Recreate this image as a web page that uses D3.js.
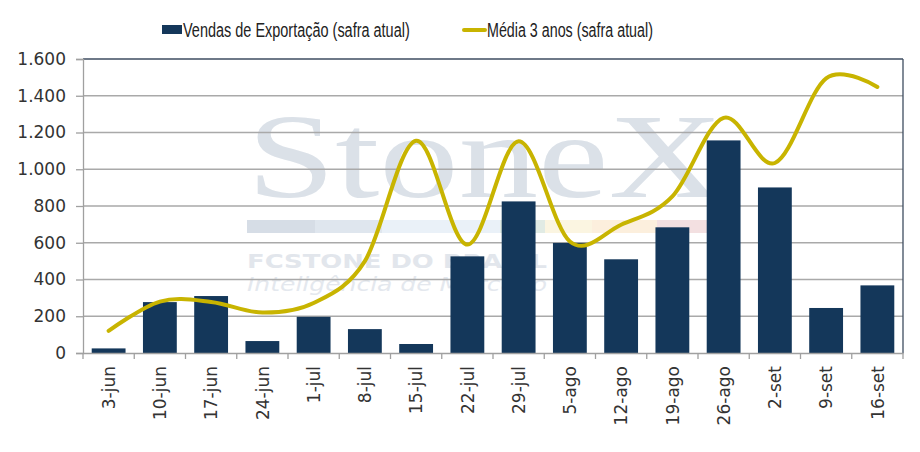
<!DOCTYPE html>
<html>
<head>
<meta charset="utf-8">
<script src="https://cdn.jsdelivr.net/npm/d3@7/dist/d3.min.js"></script>
<style>
  html, body { margin: 0; padding: 0; background: #fff; }
  svg { display: block; }
</style>
</head>
<body>
<svg id="chart" width="920" height="452"></svg>
<script>
const categories = ["3-jun","10-jun","17-jun","24-jun","1-jul","8-jul","15-jul","22-jul","29-jul","5-ago","12-ago","19-ago","26-ago","2-set","9-set","16-set"];
const vendas = [25, 277, 310, 65, 197, 130, 49, 526, 825, 599, 510, 684, 1157, 901, 245, 368];
const media3 = [120, 280, 278, 220, 272, 500, 1155, 590, 1152, 607, 698, 852, 1280, 1034, 1495, 1448];
const yTicks = [0, 200, 400, 600, 800, 1000, 1200, 1400, 1600];
const seriesNames = ["Vendas de Exportação (safra atual)", "Média 3 anos (safra atual)"];

const W = 920, H = 452;
const margin = { top: 59, right: 17, bottom: 99, left: 83 };
const barColor = "#14375a";
const lineColor = "#c8b400";

const svg = d3.select("#chart");
const fmt = v => d3.format(",")(v).replace(/,/g, ".");

const x = d3.scaleBand().domain(categories)
  .range([margin.left, W - margin.right])
  .paddingInner(0.34).paddingOuter(0.17);
const y = d3.scaleLinear().domain([0, 1600]).range([H - margin.bottom, margin.top]);

// Watermark
const wm = svg.append("g").attr("class", "watermark");
wm.append("text").attr("x", 247).attr("y", 197)
  .attr("font-family", "Liberation Serif, DejaVu Serif, serif")
  .attr("font-size", 120).attr("fill", "#dbe1e8")
  .attr("textLength", 476).attr("lengthAdjust", "spacingAndGlyphs")
  .text("StoneX");
const wmBands = [
  [247, 315, "#d6dde6"], [315, 382, "#dfe6ee"], [382, 500, "#eaf1f8"],
  [500, 545, "#e1ebe4"], [545, 592, "#fbf5e1"], [592, 657, "#fcefdd"], [657, 707, "#f3e0e1"]
];
wm.selectAll("rect").data(wmBands).join("rect")
  .attr("x", d => d[0]).attr("width", d => d[1] - d[0])
  .attr("y", 220).attr("height", 13).attr("fill", d => d[2]);
wm.append("text").attr("x", 247).attr("y", 268)
  .attr("font-family", "DejaVu Sans, sans-serif").attr("font-weight", "bold")
  .attr("font-size", 19).attr("fill", "#e2e6ec")
  .attr("textLength", 300).attr("lengthAdjust", "spacingAndGlyphs")
  .text("FCSTONE DO BRASIL");
wm.append("text").attr("x", 247).attr("y", 291)
  .attr("font-family", "DejaVu Sans, sans-serif").attr("font-style", "italic")
  .attr("font-size", 20).attr("fill", "#e4e8ee")
  .attr("textLength", 300).attr("lengthAdjust", "spacingAndGlyphs")
  .text("Inteligência de Mercado");

// Gridlines
svg.append("g").selectAll("line").data(yTicks.filter(t => t > 0 && t < 1600)).join("line")
  .attr("x1", margin.left).attr("x2", W - margin.right)
  .attr("y1", d => y(d)).attr("y2", d => y(d))
  .attr("stroke", "#a9a9a9").attr("stroke-width", 1.3);

// Bars
svg.append("g").selectAll("rect").data(vendas).join("rect")
  .attr("x", (d, i) => x(categories[i]))
  .attr("width", x.bandwidth())
  .attr("y", d => y(d))
  .attr("height", d => y(0) - y(d))
  .attr("fill", barColor);

// Frame top and right
svg.append("line").attr("x1", margin.left).attr("x2", W - margin.right)
  .attr("y1", margin.top).attr("y2", margin.top)
  .attr("stroke", "#3e4d60").attr("stroke-width", 1.3);
svg.append("line").attr("x1", W - margin.right).attr("x2", W - margin.right)
  .attr("y1", margin.top).attr("y2", y(0))
  .attr("stroke", "#3e4d60").attr("stroke-width", 1.3);

// Y axis
const yAxis = d3.axisLeft(y).tickValues(yTicks).tickSize(7).tickPadding(10).tickFormat(fmt);
const gy = svg.append("g").attr("transform", `translate(${margin.left},0)`).call(yAxis);
gy.select(".domain").attr("stroke", "#a0a0a0").attr("stroke-width", 1.3);
gy.selectAll(".tick line").attr("stroke", "#a0a0a0").attr("stroke-width", 1.3);
gy.selectAll(".tick text").attr("font-family", "DejaVu Sans, Verdana, sans-serif")
  .attr("font-size", 17).attr("fill", "#333");

// X axis
const gx = svg.append("g").attr("transform", `translate(0,${y(0)})`)
  .call(d3.axisBottom(x).tickSize(0).tickFormat(""));
gx.select(".domain").attr("stroke", "#a0a0a0").attr("stroke-width", 1.3);
gx.selectAll(".tick").remove();
const bounds = categories.map(c => x(c) - (x.step() - x.bandwidth()) / 2).concat([W - margin.right]);
gx.selectAll("line.sep").data(bounds).join("line").attr("class", "sep")
  .attr("x1", d => d).attr("x2", d => d).attr("y1", 0).attr("y2", 6)
  .attr("stroke", "#a0a0a0").attr("stroke-width", 1.3);
svg.append("g").selectAll("text").data(categories).join("text")
  .attr("transform", d => `translate(${x(d) + x.bandwidth() / 2},366) rotate(-90)`)
  .attr("text-anchor", "end").attr("dy", "0.36em")
  .attr("font-family", "DejaVu Sans, Verdana, sans-serif")
  .attr("font-size", 17).attr("fill", "#333")
  .text(d => d);

// Line
const line = d3.line()
  .x((d, i) => x(categories[i]) + x.bandwidth() / 2)
  .y(d => y(d))
  .curve(d3.curveCardinal.tension(0));
svg.append("path").datum(media3)
  .attr("d", line).attr("fill", "none")
  .attr("stroke", lineColor).attr("stroke-width", 4)
  .attr("stroke-linecap", "round").attr("stroke-linejoin", "round");

// Legend (condensed by horizontal scaling to match the narrow legend font)
const lg = svg.append("g");
const legendFont = "Liberation Sans Narrow, Arial Narrow, Liberation Sans, sans-serif";
function legendText(x0, y0, width, label) {
  const t = lg.append("text").attr("x", 0).attr("y", 0).attr("dy", "0.35em")
    .attr("font-family", legendFont).attr("font-size", 21).attr("fill", "#222")
    .text(label);
  const w = t.node().getComputedTextLength();
  const k = w > 0 ? width / w : 1;
  t.attr("transform", `translate(${x0},${y0}) scale(${k},1)`);
}
lg.append("rect").attr("x", 162).attr("y", 25).attr("width", 20).attr("height", 9).attr("fill", barColor);
legendText(183, 30, 227, seriesNames[0]);
lg.append("line").attr("x1", 464).attr("x2", 485).attr("y1", 30).attr("y2", 30)
  .attr("stroke", lineColor).attr("stroke-width", 4).attr("stroke-linecap", "round");
legendText(487, 30, 166, seriesNames[1]);
</script>
</body>
</html>
